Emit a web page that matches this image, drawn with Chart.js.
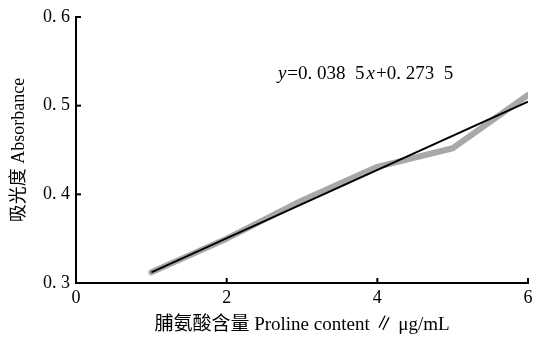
<!DOCTYPE html>
<html>
<head>
<meta charset="utf-8">
<script src="https://cdn.jsdelivr.net/npm/chart.js@4/dist/chart.umd.min.js"></script>
<style>
  html, body { margin: 0; padding: 0; background: #fff; }
  #wrap { width: 534px; height: 340px; }
</style>
</head>
<body>
<div id="wrap"><canvas id="line-chart" width="534" height="340"></canvas></div>
<script>
// measured points (gray) and the fitted line (black)
const prolineContent = [1, 2, 3, 4, 5, 6];
const absorbance = [0.312, 0.350, 0.393, 0.431, 0.452, 0.512];
const fitX = [1, 6];
const fitY = [0.312, 0.5045];
const xTicks = [0, 2, 4, 6];
const yTicks = [0.3, 0.4, 0.5, 0.6];
const equation = ['y', '=0. 038  5', 'x', '+0. 273  5'];

const serif = "'Liberation Serif', 'Noto Sans CJK SC', serif";

function toPoints(xs, ys) {
  return xs.map(function (x, i) { return { x: x, y: ys[i] }; });
}

// inward tick marks + equation text
const extras = {
  id: 'extras',
  afterDraw: function (chart) {
    const ctx = chart.ctx;
    const xs = chart.scales.x, ys = chart.scales.y;
    ctx.save();
    ctx.strokeStyle = '#000';
    ctx.lineWidth = 2;
    xTicks.slice(1).forEach(function (t) {
      const px = xs.getPixelForValue(t);
      ctx.beginPath();
      ctx.moveTo(px, ys.bottom);
      ctx.lineTo(px, ys.bottom - 5);
      ctx.stroke();
    });
    yTicks.slice(1).forEach(function (t) {
      const py = ys.getPixelForValue(t);
      ctx.beginPath();
      ctx.moveTo(xs.left, py);
      ctx.lineTo(xs.left + 5, py);
      ctx.stroke();
    });

    // y=0.038 5x+0.273 5
    let px = xs.getPixelForValue(2.68);
    const py = ys.getPixelForValue(0.536);
    ctx.fillStyle = '#000';
    ctx.textBaseline = 'middle';
    equation.forEach(function (part, i) {
      ctx.font = (i % 2 === 0 ? 'italic ' : '') + '19px ' + serif;
      ctx.fillText(part, px, py);
      px += ctx.measureText(part).width + (i % 2 === 0 ? 1 : 2);
    });
    ctx.restore();
  }
};

new Chart(document.getElementById('line-chart'), {
  type: 'scatter',
  data: {
    datasets: [
      {
        label: 'fit',
        data: toPoints(fitX, fitY),
        showLine: true,
        borderColor: '#000',
        borderWidth: 2,
        pointRadius: 0,
        order: 0
      },
      {
        label: 'measured',
        data: toPoints(prolineContent, absorbance),
        showLine: true,
        borderColor: '#a8a8a8',
        borderWidth: 6,
        borderCapStyle: 'round',
        borderJoinStyle: 'round',
        pointRadius: 0,
        order: 1
      }
    ]
  },
  options: {
    responsive: false,
    animation: false,
    layout: { padding: { left: 4, right: 6, top: 17, bottom: 0 } },
    plugins: {
      legend: { display: false },
      tooltip: { enabled: false }
    },
    scales: {
      x: {
        type: 'linear',
        min: 0,
        max: 6,
        afterFit: function (s) { s.height = 57; s.paddingRight = 0; },
        afterBuildTicks: function (s) { s.ticks = xTicks.map(function (v) { return { value: v }; }); },
        border: { color: '#000', width: 2 },
        grid: { drawOnChartArea: false, drawTicks: false },
        ticks: {
          color: '#000',
          padding: 4,
          font: { family: serif, size: 18 },
          maxRotation: 0
        },
        title: {
          display: true,
          text: '脯氨酸含量 Proline content ∥ μg/mL',
          color: '#000',
          font: { family: serif, size: 19 },
          padding: { top: 0, bottom: 4 }
        }
      },
      y: {
        type: 'linear',
        min: 0.3,
        max: 0.6,
        afterFit: function (s) { s.width = 72; },
        afterBuildTicks: function (s) { s.ticks = yTicks.map(function (v) { return { value: v }; }); },
        border: { color: '#000', width: 2 },
        grid: { drawOnChartArea: false, drawTicks: false },
        ticks: {
          color: '#000',
          padding: 6,
          font: { family: serif, size: 18 },
          callback: function (v) { return v.toFixed(1).replace('.', '. '); }
        },
        title: {
          display: true,
          text: '吸光度 Absorbance',
          color: '#000',
          font: { family: serif, size: 18 },
          padding: { top: 4, bottom: 0 }
        }
      }
    }
  },
  plugins: [extras]
});
</script>
</body>
</html>
